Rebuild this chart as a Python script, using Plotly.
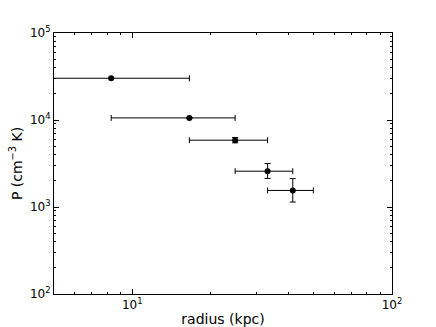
import plotly.graph_objects as go

# pressure profile
radius = [8.3, 16.6, 24.9, 33.2, 41.5]
radius_err = [8.3, 8.3, 8.3, 8.3, 8.3]
pressure = [30200, 10570, 5860, 2580, 1550]
p_err_up = [0, 0, 420, 580, 570]
p_err_down = [0, 0, 390, 450, 410]

decades_x = [1, 2]
decades_y = [2, 3, 4, 5]

FONT = "DejaVu Sans"

def minor_vals(lo, hi):
    out = []
    for k in range(lo, hi):
        for m in range(2, 10):
            out.append(m * 10 ** k)
    return out

fig = go.Figure()
fig.add_trace(go.Scatter(
    x=radius, y=pressure, mode="markers",
    marker=dict(color="black", size=6),
    error_x=dict(type="data", array=radius_err, color="black", thickness=1, width=3),
    error_y=dict(type="data", array=p_err_up, arrayminus=p_err_down,
                 color="black", thickness=1, width=3),
    showlegend=False,
))

axis_common = dict(
    showgrid=False, zeroline=False, showline=True, linecolor="black", linewidth=1,
    mirror="ticks", ticks="inside", ticklen=5, tickcolor="black",
    tickfont=dict(family=FONT, size=12, color="black"),
    automargin=False,
)

fig.update_xaxes(
    type="log", range=[0.69897, 2],
    tickvals=[10 ** d for d in decades_x],
    ticktext=[f"10<sup>{d}</sup>" for d in decades_x],
    minor=dict(ticks="inside", ticklen=2, tickcolor="black", tickvals=minor_vals(0, 2)),
    title=dict(text="radius (kpc)", font=dict(family=FONT, size=14, color="black"), standoff=3),
    **axis_common,
)
fig.update_yaxes(
    type="log", range=[2, 5],
    tickvals=[10 ** d for d in decades_y],
    ticktext=[f"10<sup>{d}</sup>" for d in decades_y],
    minor=dict(ticks="inside", ticklen=2, tickcolor="black", tickvals=minor_vals(2, 5)),
    title=dict(text="P (cm<sup>−3</sup> K)", font=dict(family=FONT, size=14, color="black"), standoff=4),
    **axis_common,
)

fig.update_layout(
    width=436, height=327,
    margin=dict(l=54, r=44, t=33, b=33),
    plot_bgcolor="white", paper_bgcolor="white",
    font=dict(family=FONT, color="black"),
)

# the page body has a default 8px margin; drop it so the figure sits at 0,0
fig.write_html("out.html", config={"displayModeBar": False},
               post_script="document.body.style.margin='0';")
